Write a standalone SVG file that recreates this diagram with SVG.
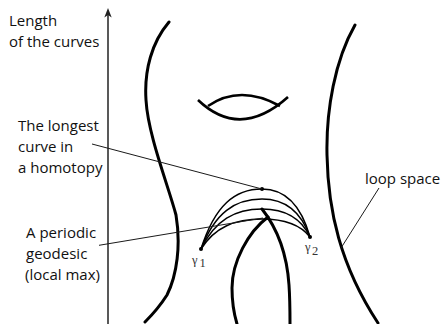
<svg xmlns="http://www.w3.org/2000/svg" width="443" height="324" viewBox="0 0 443 324">
<style>
.lbl{font-family:"Open Sans","Liberation Sans",sans-serif;font-size:15px;fill:#111}
.gam{font-family:"Liberation Serif","DejaVu Serif",serif;font-size:12.5px;fill:#333}
.thick{fill:none;stroke:#000;stroke-width:3;stroke-linecap:round}
.arc{fill:none;stroke:#000;stroke-width:1.5}
.lead{fill:none;stroke:#1a1a1a;stroke-width:1}
</style>
<rect width="443" height="324" fill="#fff"/>
<g id="axis">
<line x1="108" y1="13" x2="108" y2="324" stroke="#222" stroke-width="1.5"/>
<path d="M108,8 L104.3,17.5 L108,15 L111.7,17.5 Z" fill="#222"/>
</g>
<g id="labels">
<text class="lbl" x="9" y="26">Length</text>
<text class="lbl" x="9" y="47">of the curves</text>
<text class="lbl" x="18" y="131">The longest</text>
<text class="lbl" x="18" y="152">curve in</text>
<text class="lbl" x="18" y="173">a homotopy</text>
<text class="lbl" x="26" y="238">A periodic</text>
<text class="lbl" x="26" y="259">geodesic</text>
<text class="lbl" x="25" y="280">(local max)</text>
<text class="lbl" x="365" y="184">loop space</text>
</g>
<g id="left-sheet"><path class="thick" d="M169,22 C152,42 144,70 146,100 C148,135 168,185 176,215 C181,245 177,275 167,295 C160,306 152,315 145,322"/></g>
<g id="right-sheet"><path class="thick" d="M355,25 C335,60 326,110 327,155 C328,210 340,265 378,323"/></g>
<g id="hole">
<path d="M198,100 Q240,140 288,97" fill="none" stroke="#000" stroke-width="2.6"/>
<path d="M208,106 Q240,84 280,106" fill="none" stroke="#000" stroke-width="2.6"/>
</g>
<g id="lens">
<path class="thick" d="M262,209 C277,228 287,255 289,285 C290,300 290,312 290,324"/>
<path class="thick" d="M268,217 C248,232 232,262 232,288 C232,303 234,314 237,324"/>
</g>
<g id="homotopy">
<path class="arc" d="M201,249 C215,205 235,189 262,189 C290,189 303,212 310,237"/>
<path class="arc" d="M201,249 C215,212.5 235,199 262,199 C290,199 303,217 310,237"/>
<path class="arc" d="M201,249 C215,220 235,209 262,209 C290,209 303,222 310,237"/>
<path class="arc" d="M201,249 C215,227 235,219 262,219 C290,219 303,228 310,237"/>
<circle cx="201" cy="249" r="2"/>
<circle cx="310" cy="237" r="2"/>
<circle cx="262" cy="189" r="2"/>
<text class="gam" x="192" y="263.5">γ<tspan dx="2" dy="3.2">1</tspan></text>
<text class="gam" x="305" y="251">γ<tspan dx="1.5" dy="3.8">2</tspan></text>
</g>
<g id="connectors">
<line class="lead" x1="92" y1="144" x2="262" y2="189"/>
<line class="lead" x1="99" y1="245.3" x2="263" y2="218"/>
<line class="lead" x1="379" y1="188" x2="341" y2="248"/>
</g>
</svg>
